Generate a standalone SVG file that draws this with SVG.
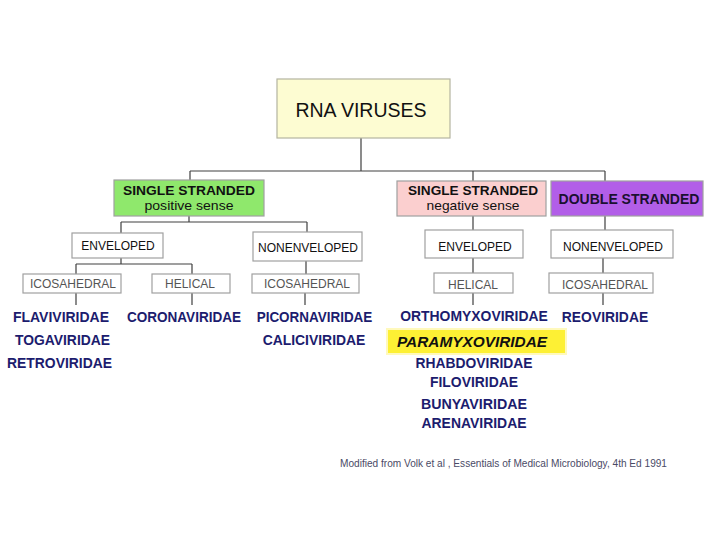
<svg xmlns="http://www.w3.org/2000/svg" width="720" height="540" viewBox="0 0 720 540">
<style>
.box{fill:#ffffff;stroke:#a0a0a0;stroke-width:1.2}
.lbl{font-family:"Liberation Sans",Arial,sans-serif;font-size:12px;fill:#111;text-anchor:middle}
.shape{font-family:"Liberation Sans",Arial,sans-serif;font-size:12px;fill:#555;text-anchor:middle}
.hd{font-family:"Liberation Sans",Arial,sans-serif;font-weight:bold;font-size:13.5px;fill:#111;text-anchor:middle}
.sub{font-family:"Liberation Sans",Arial,sans-serif;font-size:13.5px;fill:#111;text-anchor:middle}
.fam{font-family:"Liberation Sans",Arial,sans-serif;font-weight:bold;font-size:14px;fill:#1c1c6e;text-anchor:middle}
.conn{fill:none;stroke:#404040;stroke-width:1.2}
</style>
<rect width="720" height="540" fill="#ffffff"/>
<g id="connectors" class="conn">
<path d="M361 138V171M190 171H605M190 171V180M473 171V181M605 171V181"/>
<path d="M189 216V222M121 222H307M121 222V233M307 222V232"/>
<path d="M121 258V264M76 264H192M76 264V274M192 264V274M76 293V305M192 293V305"/>
<path d="M306 261V274M305 293V305"/>
<path d="M473 216V230M473 258V273M473 293V305"/>
<path d="M605 216V230M603 258V273M603 293V305"/>
</g>
<g id="rna">
<rect x="277" y="79" width="173" height="59" fill="#fdfcd2" stroke="#b4b4a0" stroke-width="1.2"/>
<text x="361" y="117" font-family="'Liberation Sans',Arial,sans-serif" font-size="19.5" fill="#111" text-anchor="middle">RNA VIRUSES</text>
</g>
<g id="ss-pos">
<rect x="114" y="180" width="150" height="36" fill="#8fe86c" stroke="#a0a0a0" stroke-width="1.2"/>
<text class="hd" x="189" y="194.5" textLength="132" lengthAdjust="spacingAndGlyphs">SINGLE STRANDED</text>
<text class="sub" x="189" y="210" textLength="89" lengthAdjust="spacingAndGlyphs">positive sense</text>
</g>
<g id="ss-neg">
<rect x="397" y="181" width="149" height="35" fill="#fbcfcf" stroke="#a0a0a0" stroke-width="1.2"/>
<text class="hd" x="473" y="194.5" textLength="130" lengthAdjust="spacingAndGlyphs">SINGLE STRANDED</text>
<text class="sub" x="473" y="210" textLength="93" lengthAdjust="spacingAndGlyphs">negative sense</text>
</g>
<g id="ds">
<rect x="551" y="181" width="152" height="35" fill="#b25ee8" stroke="#a0a0a0" stroke-width="1.2"/>
<text class="hd" x="629" y="204" style="fill:#1a1030;font-size:14px">DOUBLE STRANDED</text>
</g>
<g id="env-left">
<rect class="box" x="72" y="233" width="91" height="25"/>
<text class="lbl" x="118" y="250">ENVELOPED</text>
</g>
<g id="nonenv-left">
<rect class="box" x="253" y="232" width="109" height="29"/>
<text class="lbl" x="308" y="252">NONENVELOPED</text>
</g>
<g id="env-right">
<rect class="box" x="425" y="230" width="98" height="28"/>
<text class="lbl" x="475" y="251">ENVELOPED</text>
</g>
<g id="nonenv-right">
<rect class="box" x="551" y="230" width="122" height="28"/>
<text class="lbl" x="613" y="251">NONENVELOPED</text>
</g>
<g id="icos-1">
<rect class="box" x="23" y="274" width="98" height="19"/>
<text class="shape" x="73" y="288">ICOSAHEDRAL</text>
</g>
<g id="hel-1">
<rect class="box" x="152" y="274" width="78" height="19"/>
<text class="shape" x="190" y="288">HELICAL</text>
</g>
<g id="icos-2">
<rect class="box" x="252" y="274" width="107" height="19"/>
<text class="shape" x="307" y="288">ICOSAHEDRAL</text>
</g>
<g id="hel-2">
<rect class="box" x="434" y="273" width="79" height="20"/>
<text class="shape" x="473" y="289">HELICAL</text>
</g>
<g id="icos-3">
<rect class="box" x="549" y="273" width="104" height="20"/>
<text class="shape" x="605" y="289">ICOSAHEDRAL</text>
</g>
<g id="families-1">
<text class="fam" x="61" y="322" textLength="96" lengthAdjust="spacingAndGlyphs">FLAVIVIRIDAE</text>
<text class="fam" x="62.5" y="345" textLength="95" lengthAdjust="spacingAndGlyphs">TOGAVIRIDAE</text>
<text class="fam" x="59.5" y="368" textLength="105" lengthAdjust="spacingAndGlyphs">RETROVIRIDAE</text>
</g>
<g id="families-2">
<text class="fam" x="184" y="322" textLength="114" lengthAdjust="spacingAndGlyphs">CORONAVIRIDAE</text>
</g>
<g id="families-3">
<text class="fam" x="314.5" y="322" textLength="115.6" lengthAdjust="spacingAndGlyphs">PICORNAVIRIDAE</text>
<text class="fam" x="314" y="345" textLength="102.7" lengthAdjust="spacingAndGlyphs">CALICIVIRIDAE</text>
</g>
<g id="families-4">
<text class="fam" x="474" y="321" textLength="147.7" lengthAdjust="spacingAndGlyphs">ORTHOMYXOVIRIDAE</text>
<rect x="386" y="328" width="181" height="27" fill="#fff7a0" opacity="0.7"/>
<rect x="388" y="330" width="177" height="23" fill="#fdf034"/>
<text class="fam" x="472" y="347" font-style="italic" style="fill:#111" textLength="150" lengthAdjust="spacingAndGlyphs">PARAMYXOVIRIDAE</text>
<text class="fam" x="474" y="368" textLength="117" lengthAdjust="spacingAndGlyphs">RHABDOVIRIDAE</text>
<text class="fam" x="474" y="387" textLength="88" lengthAdjust="spacingAndGlyphs">FILOVIRIDAE</text>
<text class="fam" x="474" y="409" textLength="106" lengthAdjust="spacingAndGlyphs">BUNYAVIRIDAE</text>
<text class="fam" x="474" y="428" textLength="105" lengthAdjust="spacingAndGlyphs">ARENAVIRIDAE</text>
</g>
<g id="families-5">
<text class="fam" x="605" y="322" textLength="86.3" lengthAdjust="spacingAndGlyphs">REOVIRIDAE</text>
</g>
<text x="340" y="467" font-family="'Liberation Sans',Arial,sans-serif" font-size="10" fill="#4a4a66" textLength="327" lengthAdjust="spacingAndGlyphs">Modified from Volk et al , Essentials of Medical Microbiology, 4th Ed  1991</text>
</svg>
